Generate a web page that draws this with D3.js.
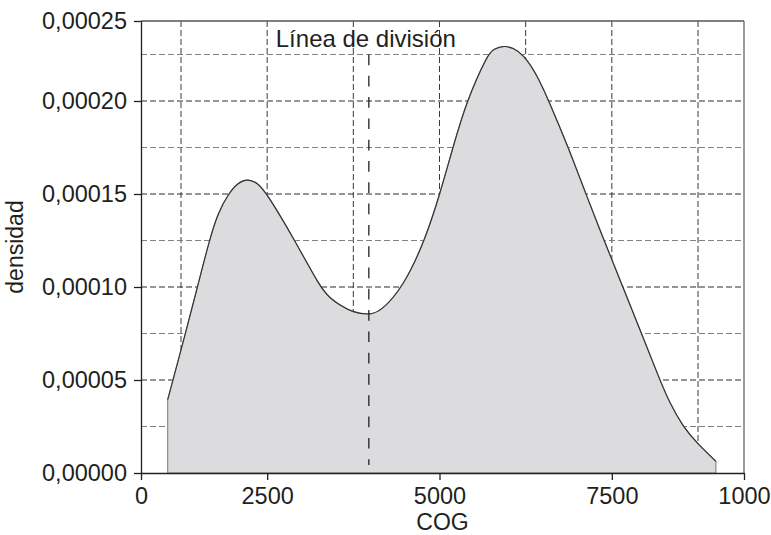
<!DOCTYPE html>
<html>
<head>
<meta charset="utf-8">
<script src="https://cdn.jsdelivr.net/npm/d3@7"></script>
<style>
  body { margin: 0; background: #fff; }
  svg { display: block; font-family: "Liberation Sans", Arial, sans-serif; }
  .axis text { font-size: 23.5px; fill: #231f20; }
  .axis path, .axis line { stroke: #231f20; stroke-width: 1.3px; }
  .label { font-size: 23px; fill: #231f20; }
  .label.div { font-size: 24px; }
</style>
</head>
<body>
<div id="chart"></div>
<script>
var cog = [834, 1315, 1489, 1660, 1787, 1936, 2072, 2217, 2362, 2501, 2903, 3266, 3411,
  3556, 3749, 3962, 4136, 4474, 4788, 5006, 5194, 5393, 5698, 5779, 5924, 6069, 6214,
  6412, 6586, 6866, 7123, 7388, 7660, 7931, 8196, 8341, 8530, 8750, 9236];
var density = [3.94e-5, 7.51e-5, 1.0e-4, 1.25e-4, 1.399e-4, 1.50e-4, 1.560e-4, 1.582e-4,
  1.560e-4, 1.50e-4, 1.25e-4, 1.0e-4, 9.40e-5, 9.02e-5, 8.63e-5, 8.51e-5, 8.63e-5, 1.0e-4,
  1.25e-4, 1.50e-4, 1.75e-4, 2.0e-4, 2.25e-4, 2.289e-4, 2.317e-4, 2.300e-4, 2.25e-4,
  2.143e-4, 2.0e-4, 1.754e-4, 1.5e-4, 1.25e-4, 1.0e-4, 7.5e-5, 5.0e-5, 3.76e-5, 2.5e-5,
  1.54e-5, 6.3e-6];

var xTicks = [0, 2500, 5000, 7500, 10000];
var xTickLabels = ["0", "2500", "5000", "7500", "1000"];
var xGrid = [1250, 2500, 3750, 5000, 6250, 7500, 8750];
var yTicks = [0, 0.00005, 0.0001, 0.00015, 0.0002, 0.00025];
var yGridMajor = [0.00005, 0.0001, 0.00015, 0.0002];
var yGridMinor = [0.000025, 0.000075, 0.000125, 0.000175, 0.000225];
var divisionCog = 3975;
var divisionLabel = "Línea de división";

var margin = {top: 21, right: 27, bottom: 62, left: 141},
  width = 771 - margin.left - margin.right,
  height = 535 - margin.top - margin.bottom;

// the original axes are squeezed at the ends, so both scales are piecewise
var x = d3.scaleLinear()
  .domain([0, 1250, 8750, 10000])
  .range([0, 40, 557, width]);

var y = d3.scaleLinear()
  .domain([0, 0.000225, 0.00025])
  .range([height, height - 418.5, 0]);

var comma = d3.formatLocale({decimal: ",", thousands: ".", grouping: [3], currency: ["", ""]});
var fmt = comma.format(".5f");

var data = cog.map(function(c, i) { return {x: c, y: density[i]}; });

var svg = d3.select("#chart").append("svg")
  .attr("width", 771)
  .attr("height", 535)
  .append("g")
  .attr("transform", "translate(" + margin.left + "," + margin.top + ")");

svg.append("g").selectAll("line")
  .data(xGrid)
  .enter().append("line")
  .attr("x1", function(d) { return x(d); })
  .attr("x2", function(d) { return x(d); })
  .attr("y1", 0)
  .attr("y2", height)
  .attr("stroke", "#3a3a3a")
  .attr("stroke-dasharray", "6,3");

svg.append("g").selectAll("line")
  .data(yGridMinor)
  .enter().append("line")
  .attr("x1", 0)
  .attr("x2", width)
  .attr("y1", function(d) { return y(d); })
  .attr("y2", function(d) { return y(d); })
  .attr("stroke", "#808080")
  .attr("stroke-dasharray", "6,3");

svg.append("g").selectAll("line")
  .data(yGridMajor)
  .enter().append("line")
  .attr("x1", 0)
  .attr("x2", width)
  .attr("y1", function(d) { return y(d); })
  .attr("y2", function(d) { return y(d); })
  .attr("stroke", "#2a2a2a")
  .attr("stroke-dasharray", "6,3");

var area = d3.area()
  .x(function(d) { return x(d.x); })
  .y0(y(0))
  .y1(function(d) { return y(d.y); })
  .curve(d3.curveBasis);

var line = d3.line()
  .x(function(d) { return x(d.x); })
  .y(function(d) { return y(d.y); })
  .curve(d3.curveBasis);

svg.append("path")
  .datum(data)
  .attr("d", area)
  .attr("fill", "#dcdcde")
  .attr("stroke", "#8a8a8a")
  .attr("stroke-width", 1.2);

svg.append("path")
  .datum(data)
  .attr("d", line)
  .attr("fill", "none")
  .attr("stroke", "#333")
  .attr("stroke-width", 1.1);

svg.append("line")
  .attr("x1", x(divisionCog))
  .attr("x2", x(divisionCog))
  .attr("y1", y(0.000225))
  .attr("y2", y(0) - 8)
  .attr("stroke", "#231f20")
  .attr("stroke-width", 1.3)
  .attr("stroke-dasharray", "10.7,10.6");

svg.append("text")
  .attr("class", "label div")
  .attr("x", x(divisionCog) - 3)
  .attr("y", 26)
  .attr("text-anchor", "middle")
  .text(divisionLabel);

// frame top and right
svg.append("line")
  .attr("x1", 0).attr("x2", width)
  .attr("y1", 0).attr("y2", 0)
  .attr("stroke", "#555").attr("stroke-width", 1.3);
svg.append("line")
  .attr("x1", width).attr("x2", width)
  .attr("y1", 0).attr("y2", height)
  .attr("stroke", "#666").attr("stroke-width", 1.3);

svg.append("g")
  .attr("class", "axis")
  .attr("transform", "translate(0," + height + ")")
  .call(d3.axisBottom(x)
    .tickValues(xTicks)
    .tickFormat(function(d, i) { return xTickLabels[i]; })
    .tickSizeInner(7)
    .tickSizeOuter(0)
    .tickPadding(7));

svg.append("g")
  .attr("class", "axis")
  .call(d3.axisLeft(y)
    .tickValues(yTicks)
    .tickFormat(fmt)
    .tickSizeInner(7)
    .tickSizeOuter(0)
    .tickPadding(7));

svg.append("text")
  .attr("class", "label")
  .attr("x", width / 2)
  .attr("y", height + 57)
  .attr("text-anchor", "middle")
  .text("COG");

svg.append("text")
  .attr("class", "label")
  .attr("transform", "rotate(-90)")
  .attr("x", -height / 2)
  .attr("y", -118)
  .attr("text-anchor", "middle")
  .text("densidad");
</script>
</body>
</html>
